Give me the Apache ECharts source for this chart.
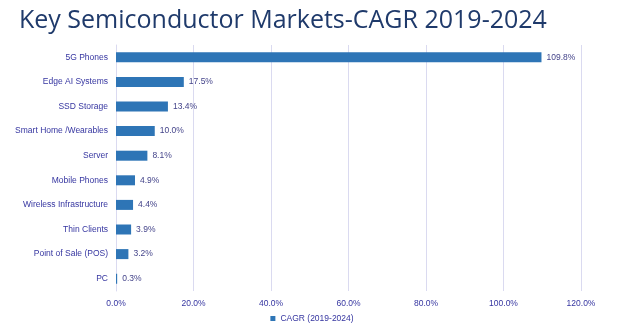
<!DOCTYPE html>
<html><head><meta charset="utf-8">
<script src="https://cdn.jsdelivr.net/npm/echarts@6/dist/echarts.min.js"></script>
<style>html,body{margin:0;padding:0;background:#fff}#c{width:624px;height:323px}</style>
</head><body><div id="c"></div>
<script>
const categories = ["5G Phones","Edge AI Systems","SSD Storage","Smart Home /Wearables","Server","Mobile Phones","Wireless Infrastructure","Thin Clients","Point of Sale (POS)","PC"];
const values = [109.8,17.5,13.4,10.0,8.1,4.9,4.4,3.9,3.2,0.3];
const xTicks = [0,20,40,60,80,100,120];
const seriesName = "CAGR (2019-2024)";
const chart = echarts.init(document.getElementById('c'));
chart.setOption({
  animation:false,
  title:{text:"Key Semiconductor Markets-CAGR 2019-2024",left:14,top:3,textStyle:{fontFamily:"Open Sans",fontWeight:"normal",fontSize:25,color:"#1F3A6B"}},
  legend:{top:309,left:'center',itemWidth:5,itemHeight:5,icon:'rect',itemGap:3,textStyle:{fontFamily:"Liberation Sans",fontSize:8.5,color:"#3535A0"},data:[seriesName]},
  grid:{left:116,right:43,top:45,bottom:32},
  xAxis:{type:'value',min:xTicks[0],max:xTicks[xTicks.length-1],interval:20,
    axisLabel:{formatter:v=>v.toFixed(1)+'%',fontFamily:"Liberation Sans",fontSize:8.5,color:"#3535A0",margin:8},
    splitLine:{lineStyle:{color:"#DADAF0"}},axisLine:{show:false},axisTick:{show:false}},
  yAxis:{type:'category',data:categories,inverse:true,
    axisLabel:{fontFamily:"Liberation Sans",fontSize:8.5,color:"#3535A0",margin:8},
    axisLine:{show:true,lineStyle:{color:"#DADAF0"}},axisTick:{show:false}},
  series:[{name:seriesName,type:'bar',data:values,barWidth:10,itemStyle:{color:"#2E75B6"},
    label:{show:true,position:'right',distance:5,formatter:p=>p.value.toFixed(1)+'%',fontFamily:"Liberation Sans",fontSize:8.5,color:"#44448A"}}]
});
</script></body></html>
